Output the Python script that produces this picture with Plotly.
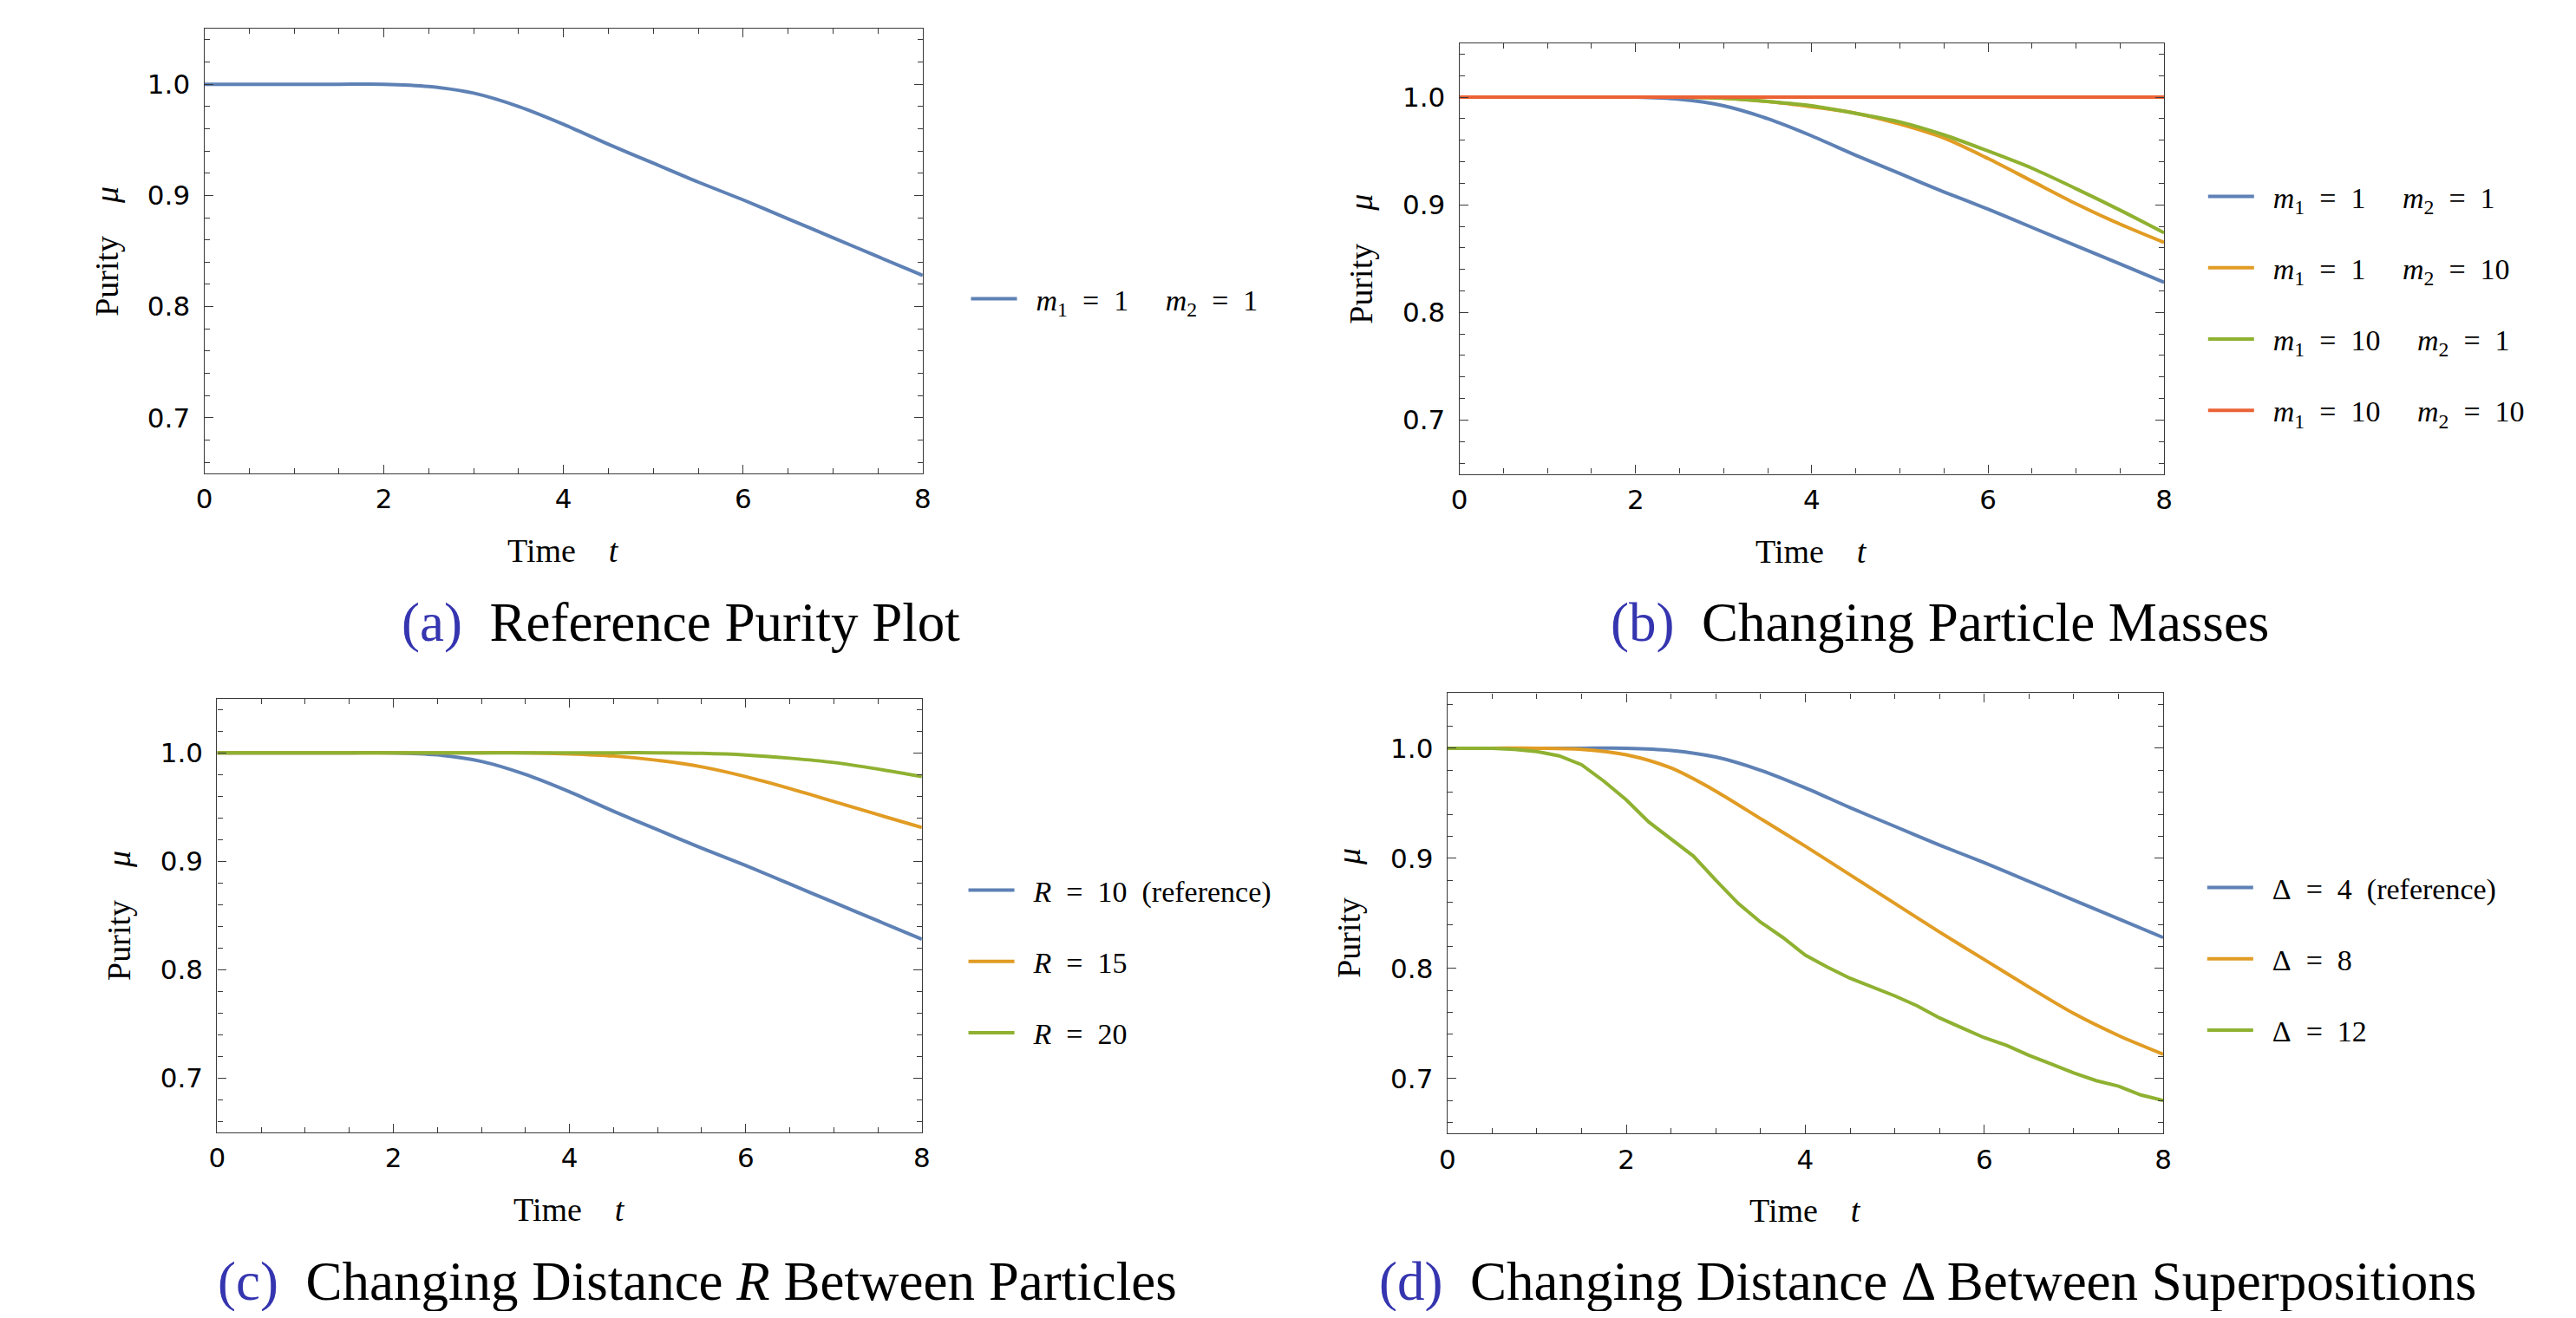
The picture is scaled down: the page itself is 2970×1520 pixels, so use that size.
import plotly.graph_objects as go

# page is 2970x1520; the html body has an 8px margin, so the figure is placed at (8, 8)
PAGE_OFF = 8
W, H = 2954, 1504

# ---------------- data ----------------
t_half = [0, 0.5, 1, 1.5, 2, 2.5, 3, 3.5, 4, 4.5, 5, 5.5, 6, 6.5, 7, 7.5, 8]
t_quarter = [0, 0.25, 0.5, 0.75, 1, 1.25, 1.5, 1.75, 2, 2.25, 2.5, 2.75, 3, 3.25,
             3.5, 3.75, 4, 4.25, 4.5, 4.75, 5, 5.25, 5.5, 5.75, 6, 6.25, 6.5,
             6.75, 7, 7.25, 7.5, 7.75, 8]

# reference purity (m1=1, m2=1, R=10, Delta=4)
purity_ref = [1.0, 1.0, 1.0, 1.0, 1.0, 0.998, 0.992, 0.980, 0.964, 0.946, 0.929,
              0.912, 0.896, 0.879, 0.862, 0.845, 0.828]

# (b) masses
purity_m1_1_m2_10 = [1.0, 1.0, 1.0, 1.0, 1.0, 1.0, 0.999, 0.996, 0.991, 0.985, 0.975,
                     0.962, 0.943, 0.922, 0.901, 0.882, 0.865]
purity_m1_10_m2_1 = [1.0, 1.0, 1.0, 1.0, 1.0, 1.0, 0.999, 0.996, 0.992, 0.985, 0.977,
                     0.965, 0.950, 0.934, 0.915, 0.895, 0.874]
purity_m1_10_m2_10 = [1.0, 1.0, 1.0, 1.0, 1.0, 1.0, 1.0, 1.0, 1.0, 1.0, 1.0,
                      1.0, 1.0, 1.0, 1.0, 1.0, 1.0]

# (c) distance R
purity_R15 = [1.0, 1.0, 1.0, 1.0, 1.0, 1.0, 1.0, 1.0, 0.999, 0.997, 0.993,
              0.987, 0.978, 0.967, 0.955, 0.943, 0.931]
purity_R20 = [1.0, 1.0, 1.0, 1.0, 1.0, 1.0, 1.0, 1.0, 1.0, 1.0, 1.0,
              0.9995, 0.998, 0.995, 0.991, 0.985, 0.978]

# (d) superposition distance Delta
purity_D8 = [1.0, 1.0, 1.0, 0.999, 0.994, 0.982, 0.961, 0.936, 0.911, 0.885, 0.859,
             0.833, 0.808, 0.783, 0.759, 0.739, 0.722]
purity_D12 = [1.0, 1.0, 1.0, 0.999, 0.997, 0.993, 0.985, 0.970, 0.953, 0.933, 0.917,
              0.902, 0.880, 0.859, 0.842, 0.828, 0.812, 0.801, 0.791, 0.783, 0.775,
              0.766, 0.755, 0.746, 0.737, 0.730, 0.721, 0.713, 0.705, 0.698, 0.693,
              0.685, 0.680]

x_ticks = [0, 2, 4, 6, 8]
y_ticks = [0.7, 0.8, 0.9, 1.0]
y_tick_text = ["0.7", "0.8", "0.9", "1.0"]

BLUE, ORANGE, GREEN, RED = "#5E81B5", "#E19C24", "#8FB131", "#EB6235"
SERIF = "Liberation Serif, Times New Roman, serif"
SANS = "DejaVu Sans, sans-serif"
CAP_BLUE = "#3535B0"
FRAME = "#3a3a3a"

def fx(px):
    return (px - PAGE_OFF) / W

def fy(py):
    return 1 - (py - PAGE_OFF) / H

fig = go.Figure()

def add(x, y, name, color, ax, leg, shape="spline"):
    line = dict(color=color, width=4, shape=shape)
    if shape == "spline":
        line["smoothing"] = 0.8
    fig.add_trace(go.Scatter(
        x=x, y=y, mode="lines", name="&nbsp;&nbsp;" + name, line=line,
        xaxis="x" + ("" if ax == 1 else str(ax)),
        yaxis="y" + ("" if ax == 1 else str(ax)),
        legend=leg, legendgroup=name + leg,
    ))

SP = "&nbsp;&nbsp;"
GAP = "&nbsp;&nbsp;&nbsp;&nbsp;&nbsp;"
def mlabel(a, b):
    return ("<i>m</i><sub>1</sub>" + SP + "=" + SP + str(a) + GAP
            + "<i>m</i><sub>2</sub>" + SP + "=" + SP + str(b))

# (a)
add(t_half, purity_ref, mlabel(1, 1), BLUE, 1, "legend")
# (b)
add(t_half, purity_ref, mlabel(1, 1), BLUE, 2, "legend2")
add(t_half, purity_m1_1_m2_10, mlabel(1, 10), ORANGE, 2, "legend2")
add(t_half, purity_m1_10_m2_1, mlabel(10, 1), GREEN, 2, "legend2")
add(t_half, purity_m1_10_m2_10, mlabel(10, 10), RED, 2, "legend2")
# (c)
add(t_half, purity_ref, "<i>R</i>" + SP + "=" + SP + "10" + SP + "(reference)", BLUE, 3, "legend3")
add(t_half, purity_R15, "<i>R</i>" + SP + "=" + SP + "15", ORANGE, 3, "legend3")
add(t_half, purity_R20, "<i>R</i>" + SP + "=" + SP + "20", GREEN, 3, "legend3")
# (d)
add(t_half, purity_ref, "Δ" + SP + "=" + SP + "4" + SP + "(reference)", BLUE, 4, "legend4")
add(t_half, purity_D8, "Δ" + SP + "=" + SP + "8", ORANGE, 4, "legend4")
add(t_quarter, purity_D12, "Δ" + SP + "=" + SP + "12", GREEN, 4, "legend4", shape="linear")

# panel boxes in page pixels: (left, right, top, bottom)
panels = {
    1: (227, 1061, 33, 546),
    2: (1684, 2502, 50, 546.5),
    3: (242, 1060, 805.6, 1305.8),
    4: (1670, 2501, 799.4, 1307.2),
}

layout = dict(
    width=W, height=H,
    margin=dict(l=0, r=0, t=0, b=0),
    paper_bgcolor="white", plot_bgcolor="white",
    showlegend=True,
)

for k, (l, r, t, b) in panels.items():
    sfx = "" if k == 1 else str(k)
    layout["xaxis" + sfx] = dict(
        domain=[fx(l), fx(r)], anchor="y" + sfx, range=[0, 8],
        tickvals=x_ticks, ticks="inside", ticklen=10, tickwidth=1.3, tickcolor=FRAME,
        showline=True, linecolor=FRAME, linewidth=1.3, mirror="ticks",
        showgrid=False, zeroline=False,
        tickfont=dict(family=SANS, size=31, color="black"),
        ticklabelstandoff=2,
        minor=dict(dtick=0.5, ticks="inside", ticklen=6, tickwidth=1.1, tickcolor=FRAME, showgrid=False),
    )
    layout["yaxis" + sfx] = dict(
        domain=[fy(b), fy(t)], anchor="x" + sfx, range=[0.65, 1.05],
        tickvals=y_ticks, ticktext=y_tick_text, ticks="inside", ticklen=10, tickwidth=1.3,
        tickcolor=FRAME, showline=True, linecolor=FRAME, linewidth=1.3, mirror="ticks",
        showgrid=False, zeroline=False,
        tickfont=dict(family=SANS, size=31, color="black"),
        ticklabelstandoff=9,
        minor=dict(dtick=0.02, tick0=0.0, ticks="inside", ticklen=6, tickwidth=1.1, tickcolor=FRAME, showgrid=False),
    )

# legends: (page x of legend left, page y of legend centre)
legend_pos = {
    "legend": (1112, 345),
    "legend2": (2548, 350),
    "legend3": (1109, 1109),
    "legend4": (2547, 1106),
}
for name, (lx, ly) in legend_pos.items():
    layout[name] = dict(
        x=fx(lx), y=fy(ly), xanchor="left", yanchor="middle",
        font=dict(family=SERIF, size=34, color="black"),
        bgcolor="rgba(0,0,0,0)", borderwidth=0,
        traceorder="grouped", tracegroupgap=35, itemwidth=53,
    )

annotations = []
# axis titles
for k, (l, r, t, b) in panels.items():
    annotations.append(dict(
        x=fx((l + r) / 2), y=fy(b + 89), xref="paper", yref="paper",
        text="Time&nbsp;&nbsp;&nbsp;&nbsp;<i>t</i>", showarrow=False,
        font=dict(family=SERIF, size=38, color="black"),
        xanchor="center", yanchor="middle",
    ))
    annotations.append(dict(
        x=fx(l - 114), y=fy((t + b) / 2), xref="paper", yref="paper",
        text="Purity&nbsp;&nbsp;&nbsp;&nbsp;<i>μ</i>", showarrow=False, textangle=-90,
        font=dict(family=SERIF, size=38, color="black"),
        xanchor="center", yanchor="middle",
    ))

captions = [
    (780, 718, "(a)", "Reference Purity Plot"),
    (2242, 718, "(b)", "Changing Particle Masses"),
    (799, 1478, "(c)", "Changing Distance <i>R</i> Between Particles"),
    (2228, 1478, "(d)", "Changing Distance Δ Between Superpositions"),
]
for cx, cy, lab, txt in captions:
    annotations.append(dict(
        x=fx(cx), y=fy(cy), xref="paper", yref="paper",
        text="<span style='color:%s'>%s</span>&nbsp; %s" % (CAP_BLUE, lab, txt),
        showarrow=False, font=dict(family=SERIF, size=63, color="black"),
        xanchor="center", yanchor="middle",
    ))

layout["annotations"] = annotations
fig.update_layout(**layout)
fig.write_html("out.html")
